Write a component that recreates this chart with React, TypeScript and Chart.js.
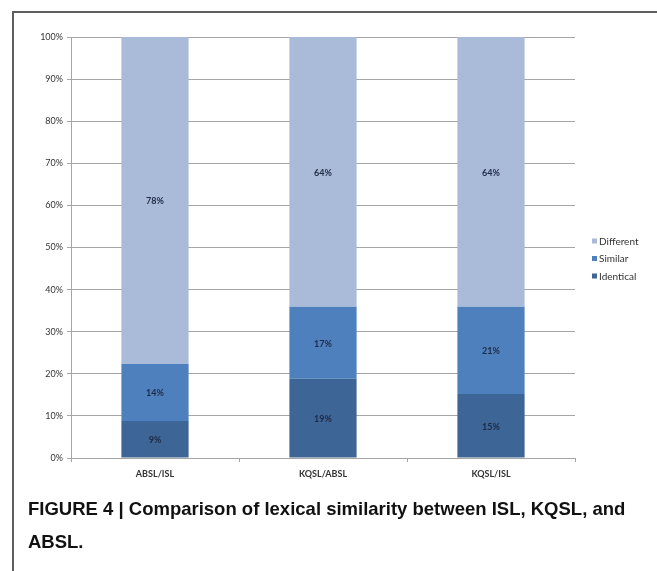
import React, { useEffect, useRef } from "react";
import { Chart, registerables } from "chart.js";

Chart.register(...registerables);

const categories = ["ABSL/ISL", "KQSL/ABSL", "KQSL/ISL"];
const identical = [8.8, 18.8, 15.2];
const similar = [13.5, 17.1, 20.7];
const different = [77.7, 64.1, 64.1];
const yTicks = [0, 10, 20, 30, 40, 50, 60, 70, 80, 90, 100];
const seriesNames = ["Identical", "Similar", "Different"];
const seriesColors = ["#3D6596", "#4E80BD", "#AABAD9"];
const captionLine1 = "FIGURE 4 | Comparison of lexical similarity between ISL, KQSL, and";
const captionLine2 = "ABSL.";

const FONT = "Lato, 'Open Sans', sans-serif";

const labelPlugin = {
  id: "segLabels",
  afterDatasetsDraw(chart: any) {
    const ctx = chart.ctx;
    ctx.save();
    ctx.font = `bold 9px ${FONT}`;
    ctx.fillStyle = "#1E2B45";
    ctx.textAlign = "center";
    ctx.textBaseline = "middle";
    chart.data.datasets.forEach((ds: any, di: number) => {
      const meta = chart.getDatasetMeta(di);
      meta.data.forEach((bar: any, i: number) => {
        const v = ds.data[i];
        const y = (bar.y + bar.base) / 2;
        ctx.fillText(`${Math.round(v)}%`, bar.x, y + 1);
      });
    });
    ctx.restore();
  },
};

const legendPlugin = {
  id: "customLegend",
  afterDraw(chart: any) {
    const ctx = chart.ctx;
    const area = chart.chartArea;
    ctx.save();
    ctx.font = `10px ${FONT}`;
    ctx.textBaseline = "middle";
    ctx.textAlign = "left";
    const n = chart.data.datasets.length;
    const spacing = 17.5;
    const cy = 259;
    for (let k = 0; k < n; k++) {
      const di = n - 1 - k;
      const ds = chart.data.datasets[di];
      const y = cy + (k - (n - 1) / 2) * spacing;
      const x = area.right + 17;
      ctx.fillStyle = ds.backgroundColor;
      ctx.fillRect(x, y - 3, 5, 5);
      ctx.fillStyle = "#333";
      ctx.fillText(ds.label, x + 7, y);
    }
    ctx.restore();
  },
};

function ChartView() {
  const ref = useRef<HTMLCanvasElement | null>(null);
  useEffect(() => {
    if (!ref.current) return;
    const data = [identical, similar, different];
    const chart = new Chart(ref.current, {
      type: "bar",
      data: {
        labels: categories,
        datasets: data.map((d, i) => ({
          label: seriesNames[i],
          data: d,
          backgroundColor: seriesColors[i],
          borderWidth: 0,
          barPercentage: 0.4,
          categoryPercentage: 1,
        })),
      },
      options: {
        animation: false,
        responsive: false,
        devicePixelRatio: 1,
        layout: { padding: { left: 0, top: 37, right: 82, bottom: 84 } },
        plugins: { legend: { display: false }, tooltip: { enabled: false } },
        scales: {
          x: {
            stacked: true,
            grid: {
              offset: true,
              drawOnChartArea: false,
              drawTicks: true,
              tickLength: 4,
              color: "#A6A6A6",
            },
            border: { color: "#A6A6A6" },
            ticks: {
              color: "#333",
              font: { family: FONT, size: 9, weight: "bold" },
              padding: 7,
            },
            afterFit(s: any) {
              s.height = 29;
            },
          },
          y: {
            stacked: true,
            min: 0,
            max: 100,
            afterBuildTicks(s: any) {
              s.ticks = yTicks.map((v) => ({ value: v }));
            },
            grid: { color: "#A6A6A6", tickLength: 4, lineWidth: 1 },
            border: { color: "#A6A6A6" },
            ticks: {
              color: "#333",
              font: { family: FONT, size: 9 },
              padding: 4,
              callback: (v: any) => `${v}%`,
            },
            afterFit(s: any) {
              s.width = 71;
            },
          },
        },
      },
      plugins: [labelPlugin, legendPlugin],
    });
    return () => chart.destroy();
  }, []);
  return (
    <canvas
      ref={ref}
      width={657}
      height={571}
      style={{ position: "absolute", left: 0, top: 0, width: 657, height: 571 }}
    />
  );
}

export default function App() {
  return (
    <div
      style={{
        position: "absolute",
        left: 0,
        top: 0,
        width: 657,
        height: 571,
        background: "#fff",
        overflow: "hidden",
      }}
    >
      <div
        style={{
          position: "absolute",
          left: 12,
          top: 11,
          width: 660,
          height: 600,
          borderLeft: "2px solid #5E5E5E",
          borderTop: "2px solid #5E5E5E",
        }}
      />
      <ChartView />
      <div
        style={{
          position: "absolute",
          left: 28,
          top: 492,
          width: 625,
          whiteSpace: "nowrap",
          fontFamily: "'Liberation Sans', Arial, sans-serif",
          fontWeight: "bold",
          fontSize: 18.5,
          lineHeight: "33px",
          color: "#111",
        }}
      >
        <div>{captionLine1}</div>
        <div>{captionLine2}</div>
      </div>
    </div>
  );
}
